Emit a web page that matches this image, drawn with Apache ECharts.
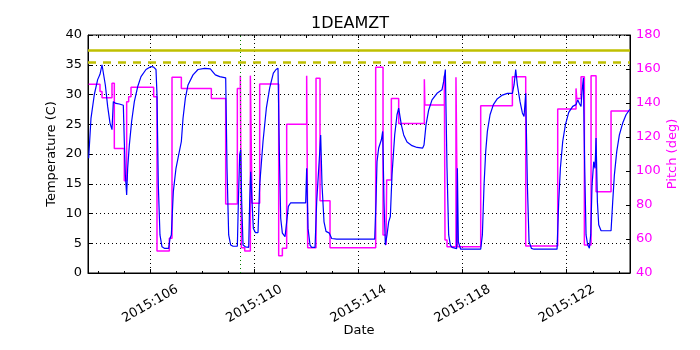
<!DOCTYPE html>
<html>
<head>
<meta charset="utf-8">
<script src="https://cdn.jsdelivr.net/npm/echarts@6/dist/echarts.min.js"></script>
<style>
  html, body { margin: 0; padding: 0; background: #fff; }
  #chart { width: 700px; height: 350px; }
</style>
</head>
<body>
<div id="chart"></div>
<script>
// Day-of-year range shown on the time axis
const dayMin = 103.61;
const dayMax = 124.43;
const majorDays = [106, 110, 114, 118, 122];
const minorDays = [104, 105, 106, 107, 108, 109, 110, 111, 112, 113, 114, 115, 116, 117, 118, 119, 120, 121, 122, 123, 124];

// Temperature samples (day, degC)
const tempDays = [
  103.635, 103.725, 103.853, 103.981, 104.071, 104.148, 104.199, 104.276, 104.365, 104.455,
  104.532, 104.583, 104.685, 104.813, 104.967, 105.005, 105.044, 105.095, 105.134, 105.198,
  105.287, 105.390, 105.518, 105.646, 105.838, 106.030, 106.132, 106.222, 106.260, 106.311,
  106.375, 106.452, 106.542, 106.708, 106.760, 106.811, 106.888, 106.990, 107.068, 107.196,
  107.260, 107.350, 107.452, 107.644, 107.836, 108.092, 108.310, 108.387, 108.502, 108.669,
  108.899, 108.950, 109.014, 109.091, 109.181, 109.347, 109.386, 109.437, 109.475, 109.514,
  109.565, 109.655, 109.783, 109.821, 109.859, 109.910, 109.962, 110.039, 110.141, 110.205,
  110.333, 110.461, 110.589, 110.730, 110.832, 110.909, 110.960, 111.012, 111.076, 111.178,
  111.242, 111.306, 111.396, 111.972, 112.010, 112.062, 112.139, 112.203, 112.331, 112.395,
  112.497, 112.548, 112.599, 112.676, 112.753, 112.881, 112.971, 113.163, 114.623, 114.674,
  114.712, 114.776, 114.879, 114.930, 114.981, 115.032, 115.096, 115.160, 115.224, 115.288,
  115.391, 115.480, 115.544, 115.647, 115.737, 115.865, 116.057, 116.249, 116.466, 116.517,
  116.594, 116.697, 116.825, 117.017, 117.209, 117.273, 117.337, 117.401, 117.465, 117.529,
  117.593, 117.773, 117.799, 117.837, 117.927, 118.695, 118.759, 118.823, 118.887, 118.951,
  119.054, 119.182, 119.336, 119.528, 119.720, 119.912, 119.976, 120.040, 120.104, 120.206,
  120.296, 120.360, 120.424, 120.488, 120.552, 120.642, 120.744, 121.628, 121.692, 121.756,
  121.845, 121.948, 122.076, 122.229, 122.357, 122.421, 122.485, 122.549, 122.588, 122.639,
  122.690, 122.742, 122.806, 122.870, 122.921, 122.972, 123.036, 123.087, 123.126, 123.177,
  123.228, 123.318, 123.702, 123.766, 123.830, 123.920, 124.022, 124.150, 124.278, 124.406,
  124.432
];
const tempValues = [
  19.3, 26.0, 30.0, 32.5, 33.4, 35.0, 35.3, 31.6, 28.0, 25.2,
  24.1, 28.8, 28.5, 28.4, 28.2, 22.0, 16.5, 13.1, 17.6, 21.5,
  25.5, 28.8, 31.3, 33.0, 34.2, 34.7, 34.6, 34.2, 30.0, 14.8,
  6.4, 4.4, 4.15, 4.15, 5.8, 6.4, 13.7, 17.6, 19.3, 22.1,
  26.0, 29.4, 31.6, 33.3, 34.2, 34.4, 34.3, 33.9, 33.3, 33.0,
  32.8, 17.6, 6.4, 4.7, 4.5, 4.5, 12.0, 19.9, 20.7, 12.0,
  4.7, 4.4, 4.3, 12.0, 17.0, 12.0, 7.5, 6.8, 6.8, 14.8,
  22.1, 27.7, 31.1, 33.6, 34.2, 34.4, 20.4, 9.2, 6.7, 6.1,
  8.6, 11.2, 11.8, 11.8, 17.6, 7.5, 4.7, 4.3, 4.3, 12.0,
  19.3, 23.2, 14.8, 8.6, 7.0, 6.7, 5.8, 5.7, 5.7, 12.0,
  18.7, 21.0, 22.4, 23.8, 12.0, 4.7, 6.4, 8.6, 9.5, 16.5,
  23.2, 26.6, 27.7, 24.9, 23.2, 22.0, 21.4, 21.1, 21.0, 21.5,
  24.9, 27.4, 29.1, 30.2, 30.8, 32.2, 34.2, 17.6, 6.4, 4.7,
  4.3, 4.1, 17.6, 5.2, 4.0, 4.0, 6.4, 14.8, 20.4, 23.8,
  26.6, 28.3, 29.3, 29.9, 30.2, 30.2, 31.6, 34.2, 31.6, 28.8,
  26.9, 26.3, 30.2, 14.8, 5.3, 4.15, 4.0, 4.0, 12.0, 17.6,
  22.1, 24.9, 27.0, 28.0, 28.3, 29.1, 28.5, 28.0, 30.5, 32.8,
  17.6, 6.4, 4.7, 4.15, 6.4, 14.8, 18.7, 17.6, 22.7, 12.0,
  8.1, 7.1, 7.1, 12.0, 16.5, 20.4, 23.2, 25.2, 26.6, 27.4,
  27.5
];

// Pitch commands (day the value starts, deg); each value holds until the next day
const pitchDays = [
  103.635, 104.071, 104.148, 104.532, 104.621, 105.005, 105.095, 105.172, 105.262, 106.132,
  106.260, 106.734, 106.837, 107.196, 108.348, 108.899, 109.347, 109.462, 109.501, 109.629,
  109.847, 109.910, 110.205, 110.935, 111.076, 111.242, 112.010, 112.049, 112.369, 112.523,
  112.907, 114.661, 114.943, 115.058, 115.083, 115.263, 115.544, 116.530, 116.550, 117.299,
  117.324, 117.401, 117.745, 117.805, 118.695, 119.912, 120.424, 121.653, 122.357, 122.383,
  122.549, 122.677, 122.934, 123.126, 123.702, 124.432
];
const pitchValues = [
  151.0, 146.7, 143.1, 151.6, 113.3, 94.3, 140.8, 143.7, 149.2, 143.7,
  52.9, 60.4, 155.1, 148.6, 142.7, 80.6, 148.6, 156.1, 54.9, 52.9,
  156.1, 81.0, 151.2, 50.2, 54.5, 127.5, 156.1, 54.9, 154.5, 82.5,
  54.9, 161.0, 62.4, 56.5, 94.7, 142.7, 128.0, 153.9, 138.8, 156.1,
  59.4, 55.5, 155.2, 55.5, 138.4, 155.5, 55.9, 136.5, 148.6, 142.7,
  155.5, 56.5, 156.1, 87.8, 135.3, 135.3
];

// Reference levels and event marker
const limitSolid = 37.5;
const limitDashed = 35.5;
const eventDay = 109.47;

const zip = (xs, ys) => xs.map((x, i) => [x, ys[i]]);

const FONT = 'DejaVu Sans';
const chart = echarts.init(document.getElementById('chart'), null, { renderer: 'canvas' });

const baseX = {
  type: 'value',
  min: dayMin,
  max: dayMax,
  gridIndex: 0
};

chart.setOption({
  animation: false,
  backgroundColor: '#ffffff',
  title: {
    text: '1DEAMZT',
    left: 'center',
    top: 11,
    textStyle: { fontFamily: FONT, fontSize: 16, fontWeight: 'normal', color: '#000' }
  },
  grid: {
    left: 88, right: 70, top: 35, bottom: 77,
    show: true, borderColor: '#000', borderWidth: 1, backgroundColor: 'transparent'
  },
  xAxis: [
    Object.assign({}, baseX, {
      position: 'bottom',
      name: 'Date',
      nameLocation: 'middle',
      nameGap: 51,
      nameMoveOverlap: false,
      nameTextStyle: { fontFamily: FONT, fontSize: 13, color: '#000' },
      axisLine: { show: true, lineStyle: { color: '#000', width: 1 } },
      axisTick: { show: true, inside: true, length: 4, customValues: majorDays, lineStyle: { color: '#000' } },
      axisLabel: {
        show: true, customValues: majorDays, rotate: 30, margin: 31,
        align: 'center', verticalAlign: 'middle',
        fontFamily: FONT, fontSize: 13, color: '#000',
        formatter: v => '2015:' + Math.round(v)
      },
      splitLine: { show: true, lineStyle: { color: '#000', type: [1, 3], width: 1 } }
    }),
    Object.assign({}, baseX, {
      position: 'bottom',
      axisLine: { show: false },
      axisTick: { show: true, inside: true, length: 2, customValues: minorDays, lineStyle: { color: '#000' } },
      axisLabel: { show: false },
      splitLine: { show: false }
    }),
    Object.assign({}, baseX, {
      position: 'top',
      axisLine: { show: false },
      axisTick: { show: true, inside: true, length: 3, customValues: minorDays, lineStyle: { color: '#000' } },
      axisLabel: { show: false },
      splitLine: { show: false }
    })
  ],
  yAxis: [
    {
      type: 'value', min: 0, max: 40, interval: 5, position: 'left',
      name: 'Temperature (C)', nameLocation: 'middle', nameGap: 30, nameRotate: 90,
      nameMoveOverlap: false,
      nameTextStyle: { fontFamily: FONT, fontSize: 13, color: '#000' },
      axisLine: { show: true, lineStyle: { color: '#000' } },
      axisTick: { show: true, inside: true, length: 4, lineStyle: { color: '#000' } },
      axisLabel: { fontFamily: FONT, fontSize: 13, color: '#000', margin: 6 },
      splitLine: { show: true, lineStyle: { color: '#000', type: [1, 3], width: 1 } }
    },
    {
      type: 'value', min: 40, max: 180, interval: 20, position: 'right',
      name: 'Pitch (deg)', nameLocation: 'middle', nameGap: 36, nameRotate: 90,
      nameMoveOverlap: false,
      nameTextStyle: { fontFamily: FONT, fontSize: 13, color: '#ff00ff' },
      axisLine: { show: true, lineStyle: { color: '#000' } },
      axisTick: { show: true, inside: true, length: 4, lineStyle: { color: '#000' } },
      axisLabel: { fontFamily: FONT, fontSize: 13, color: '#ff00ff', margin: 6 },
      splitLine: { show: false }
    }
  ],
  series: [
    {
      name: 'Pitch',
      type: 'line',
      xAxisIndex: 0,
      yAxisIndex: 1,
      step: 'end',
      showSymbol: false,
      lineStyle: { color: '#ff00ff', width: 1.5 },
      data: zip(pitchDays, pitchValues),
      z: 3
    },
    {
      name: 'Temperature',
      type: 'line',
      xAxisIndex: 0,
      yAxisIndex: 0,
      showSymbol: false,
      lineStyle: { color: '#0000ff', width: 1.2 },
      data: zip(tempDays, tempValues),
      z: 4,
      markLine: {
        silent: true,
        symbol: 'none',
        label: { show: false },
        data: [
          { yAxis: limitSolid, lineStyle: { color: '#bfbf00', width: 2.5, type: 'solid' } },
          { yAxis: limitDashed, lineStyle: { color: '#bfbf00', width: 2.5, type: [8, 7] } },
          { xAxis: eventDay, lineStyle: { color: '#008000', width: 1, type: [1, 3] } }
        ]
      }
    }
  ]
});
</script>
</body>
</html>
